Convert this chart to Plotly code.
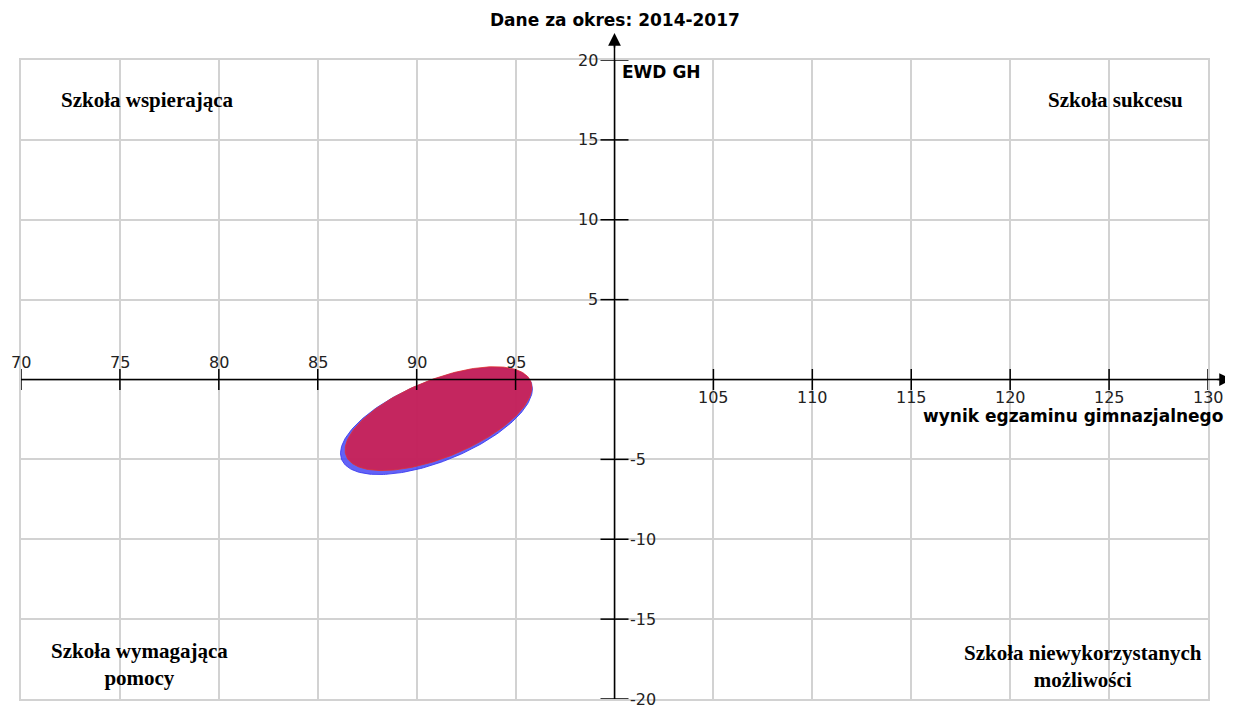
import numpy as np
import plotly.graph_objects as go

# ---- data ----
title_text = "Dane za okres: 2014-2017"
x_title = "wynik egzaminu gimnazjalnego"
y_title = "EWD GH"
x_ticks_above = [70, 75, 80, 85, 90, 95]
x_ticks_below = [105, 110, 115, 120, 125, 130]
y_ticks_pos = [20, 15, 10, 5]
y_ticks_neg = [-5, -10, -15, -20]
x_range = [70, 130]
y_range = [-20, 20]
x_cross = 100  # where the vertical axis crosses
# ellipse parameters: centre x, centre y, half-width in x, half-height in y, phase (deg)
ell_blue = dict(cx=91.0, cy=-2.6, ax=4.85, by=3.35, phase=53)
ell_red = dict(cx=91.1, cy=-2.45, ax=4.72, by=3.25, phase=53)
quadrant_labels = ["Szkoła wspierająca", "Szkoła sukcesu",
                   "Szkoła wymagająca<br>pomocy", "Szkoła niewykorzystanych<br>możliwości"]
quadrant_pos = [(76.4, 17.5), (125.3, 17.5), (76.0, -17.85), (123.7, -17.95)]

# page body has an 8px margin, so the figure is sized/margined to compensate
OFF = 8
W, H = 1233 - OFF, 705 - OFF
L, R, T, B = 21 - OFF, 25, 60 - OFF, 6
PW, PH = W - L - R, H - T - B


def ellipse(p, n=240):
    t = np.linspace(0, 2 * np.pi, n)
    ph = np.deg2rad(p["phase"])
    return p["cx"] + p["ax"] * np.cos(t), p["cy"] + p["by"] * np.cos(t - ph)


fig = go.Figure()

bx, by_ = ellipse(ell_blue)
fig.add_trace(go.Scatter(x=bx, y=by_, mode="lines", fill="toself",
                         fillcolor="rgba(70,70,245,0.85)",
                         line=dict(color="rgba(60,60,240,0.9)", width=1),
                         hoverinfo="skip", showlegend=False))
rx, ry = ellipse(ell_red)
fig.add_trace(go.Scatter(x=rx, y=ry, mode="lines", fill="toself",
                         fillcolor="rgba(212,28,70,0.86)",
                         line=dict(color="rgba(225,50,50,0.8)", width=1),
                         hoverinfo="skip", showlegend=False))

# tick marks on the crossing axes
fig.add_trace(go.Scatter(x=x_ticks_above + x_ticks_below,
                         y=[0] * (len(x_ticks_above) + len(x_ticks_below)),
                         mode="markers", cliponaxis=False,
                         marker=dict(symbol="line-ns-open", size=15, color="black",
                                     line=dict(color="black", width=1.5)),
                         hoverinfo="skip", showlegend=False))
fig.add_trace(go.Scatter(x=[x_cross] * (len(y_ticks_pos) + len(y_ticks_neg)),
                         y=y_ticks_pos + y_ticks_neg,
                         mode="markers", cliponaxis=False,
                         marker=dict(symbol="line-ew-open", size=20, color="black",
                                     line=dict(color="black", width=1.5)),
                         hoverinfo="skip", showlegend=False))

# axis lines (paper-referenced so they can extend past the plot area)
x0_paper = (x_cross - x_range[0]) / (x_range[1] - x_range[0])
y0_paper = (0 - y_range[0]) / (y_range[1] - y_range[0])
right_end = (1232 - OFF - L) / PW
top_end = 1 + (T - (33 - OFF)) / PH
fig.add_shape(type="line", xref="paper", yref="paper", x0=0, x1=right_end - 0.006,
              y0=y0_paper, y1=y0_paper, line=dict(color="black", width=1.5))
fig.add_shape(type="line", xref="paper", yref="paper", x0=x0_paper, x1=x0_paper,
              y0=0, y1=top_end - 0.012, line=dict(color="black", width=1.5))

ann = []
# arrow heads
ann.append(dict(xref="paper", yref="paper", x=right_end, y=y0_paper, ax=-16, ay=0,
                showarrow=True, arrowhead=2, arrowsize=1.7, arrowwidth=1.5,
                arrowcolor="black", text=""))
ann.append(dict(xref="paper", yref="paper", x=x0_paper, y=top_end, ax=0, ay=16,
                showarrow=True, arrowhead=2, arrowsize=1.7, arrowwidth=1.5,
                arrowcolor="black", text=""))

tick_font = dict(family="DejaVu Sans", size=16, color="#222")
for v in x_ticks_above:
    ann.append(dict(x=v, y=0, text=str(v), showarrow=False, yshift=17,
                    xanchor="center", yanchor="middle", font=tick_font))
for v in x_ticks_below:
    ann.append(dict(x=v, y=0, text=str(v), showarrow=False, yshift=-18,
                    xanchor="center", yanchor="middle", font=tick_font))
for v in y_ticks_pos:
    ann.append(dict(x=x_cross, y=v, text=str(v), showarrow=False, xshift=-15,
                    xanchor="right", yanchor="middle", font=tick_font))
for v in y_ticks_neg:
    ann.append(dict(x=x_cross, y=v, text=str(v), showarrow=False, xshift=13,
                    xanchor="left", yanchor="middle", font=tick_font))

bold_font = dict(family="DejaVu Sans", size=17, color="black")
ann.append(dict(xref="paper", yref="paper", x=x0_paper, y=1 + (T - (20 - OFF)) / PH,
                text="<b>" + title_text + "</b>", showarrow=False,
                xanchor="center", yanchor="middle", font=bold_font))
ann.append(dict(x=x_cross, y=y_range[1], text="<b>" + y_title + "</b>", showarrow=False,
                xshift=5, yshift=-12, xanchor="left", yanchor="middle", font=bold_font))
ann.append(dict(xref="paper", yref="paper", x=(1225 - OFF - L) / PW, y=y0_paper,
                text="<b>" + x_title + "</b>", showarrow=False, yshift=-36,
                xanchor="right", yanchor="middle", font=bold_font))

q_font = dict(family="Liberation Serif", size=21, color="black")
for txt, (qx, qy) in zip(quadrant_labels, quadrant_pos):
    ann.append(dict(x=qx, y=qy, text="<b>" + txt + "</b>", showarrow=False,
                    xanchor="center", yanchor="middle", align="center", font=q_font))

fig.update_layout(
    width=W, height=H,
    margin=dict(l=L, r=R, t=T, b=B, pad=0),
    plot_bgcolor="white", paper_bgcolor="white",
    xaxis=dict(range=x_range, dtick=5, tick0=70, showticklabels=False, ticks="",
               showgrid=True, gridcolor="#d2d2d2", gridwidth=1.5, zeroline=False,
               showline=True, linecolor="#d2d2d2", linewidth=1.5, mirror=True,
               fixedrange=True),
    yaxis=dict(range=y_range, dtick=5, tick0=-20, showticklabels=False, ticks="",
               showgrid=True, gridcolor="#d2d2d2", gridwidth=1.5, zeroline=False,
               showline=True, linecolor="#d2d2d2", linewidth=1.5, mirror=True,
               fixedrange=True),
    annotations=ann,
    showlegend=False,
)

fig.write_html("out.html")
